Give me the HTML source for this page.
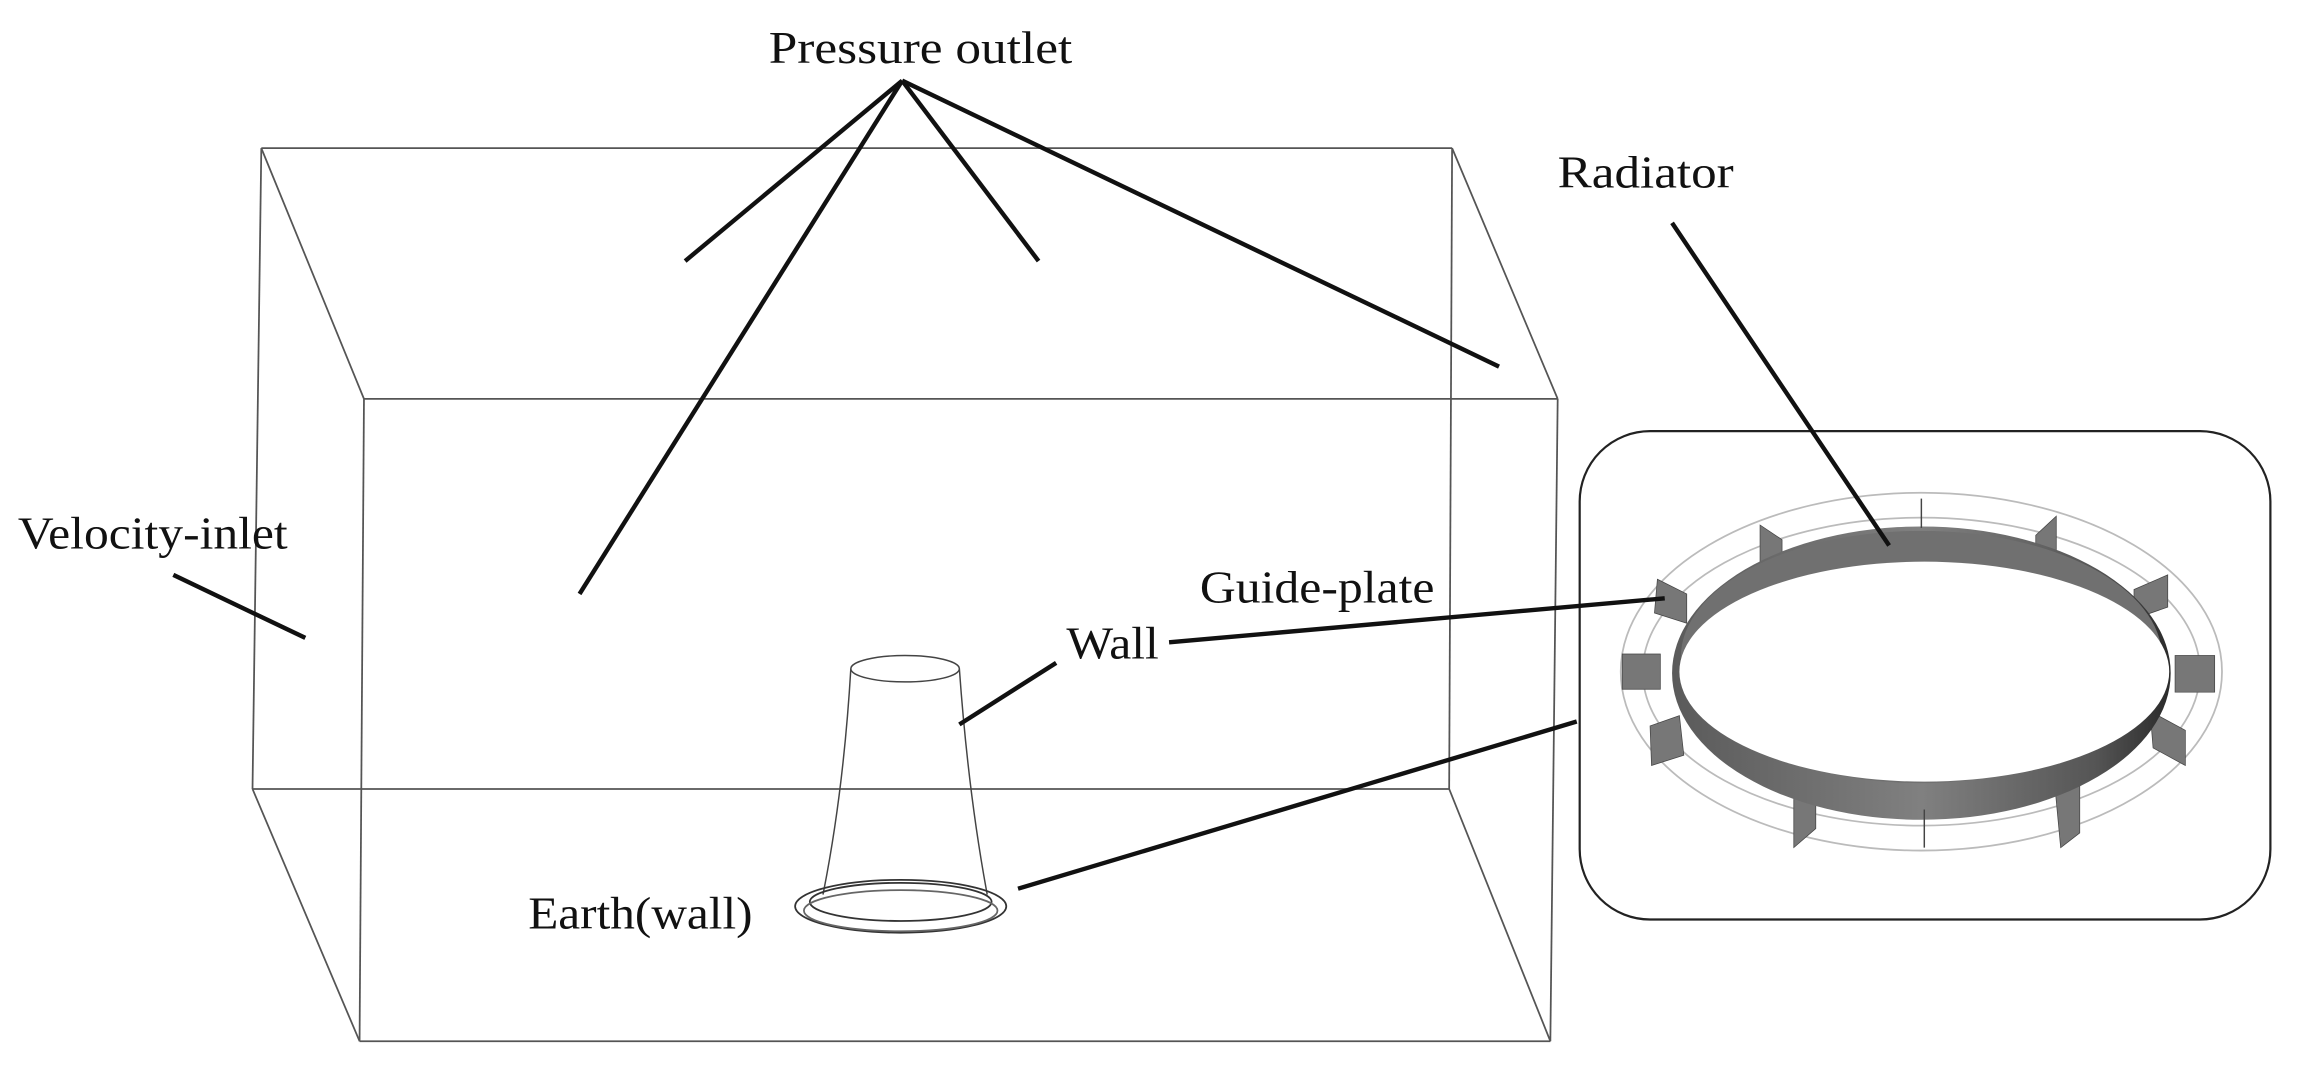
<!DOCTYPE html>
<html><head><meta charset="utf-8"><style>
html,body{margin:0;padding:0;background:#fff;}
svg{display:block;}
text{font-family:"Liberation Serif",serif;font-size:31px;fill:#111;}
</style></head><body>
<svg width="2300" height="1072" viewBox="0 0 1568 731" xmlns="http://www.w3.org/2000/svg">
<defs>
<linearGradient id="g" x1="0" x2="1" y1="0" y2="0">
<stop offset="0" stop-color="#5a5a5a"/><stop offset="0.5" stop-color="#808080"/><stop offset="0.85" stop-color="#555"/><stop offset="1" stop-color="#2a2a2a"/>
</linearGradient>
</defs>
<g stroke="#555" stroke-width="1.2" fill="none">
<line x1="178" y1="101" x2="990" y2="101"/>
<line x1="178" y1="101" x2="172" y2="538"/>
<line x1="990" y1="101" x2="988" y2="538"/>
<line x1="172" y1="538" x2="988" y2="538"/>
<line x1="248" y1="272" x2="1062" y2="272"/>
<line x1="248" y1="272" x2="245" y2="710"/>
<line x1="1062" y1="272" x2="1057" y2="710"/>
<line x1="245" y1="710" x2="1057" y2="710"/>
<line x1="178" y1="101" x2="248" y2="272"/>
<line x1="990" y1="101" x2="1062" y2="272"/>
<line x1="172" y1="538" x2="245" y2="710"/>
<line x1="988" y1="538" x2="1057" y2="710"/>
</g>
<g stroke="#444" stroke-width="1" fill="none">
<ellipse cx="617" cy="456" rx="37" ry="9"/>
<path d="M580,456 Q575,540 561,610"/>
<path d="M654,456 Q660,540 673,610"/>
</g>
<g stroke="#333" stroke-width="1.2" fill="none">
<ellipse cx="614" cy="618" rx="72" ry="18"/>
<ellipse cx="614" cy="615" rx="62" ry="13"/>
<ellipse cx="614" cy="621" rx="66" ry="14" stroke="#666"/>
</g>
<rect x="1077" y="294" width="471" height="333" rx="48" ry="48" fill="none" stroke="#222" stroke-width="1.5"/>
<g fill="none" stroke="#bbb" stroke-width="1.2">
<ellipse cx="1310" cy="458" rx="205" ry="122"/>
<ellipse cx="1310" cy="458" rx="190" ry="105"/>
</g>
<g fill="#777" stroke="#444" stroke-width="0.5">
<polygon points="1200,358 1215,368 1215,398 1200,392"/>
<polygon points="1402,352 1388,365 1388,392 1402,385"/>
<polygon points="1130,395 1150,405 1150,425 1128,418"/>
<polygon points="1478,392 1455,402 1455,422 1478,414"/>
<polygon points="1106,446 1132,446 1132,470 1106,470"/>
<polygon points="1483,447 1510,447 1510,472 1483,472"/>
<polygon points="1125,495 1145,488 1148,515 1126,522"/>
<polygon points="1466,485 1490,498 1490,522 1468,510"/>
<polygon points="1223,535 1238,528 1238,565 1223,578"/>
<polygon points="1400,525 1418,530 1418,568 1405,578"/>
</g>
<ellipse cx="1310" cy="459" rx="170" ry="100" fill="url(#g)"/>
<ellipse cx="1310" cy="448" rx="164" ry="86" fill="#707070"/>
<ellipse cx="1312" cy="458" rx="167" ry="75" fill="#fff"/>
<line x1="1310" y1="340" x2="1310" y2="360" stroke="#444"/>
<line x1="1312" y1="552" x2="1312" y2="578" stroke="#444"/>
<g stroke="#111" stroke-width="3" fill="none">
<line x1="615" y1="55" x2="467" y2="178"/>
<line x1="615" y1="55" x2="395" y2="405"/>
<line x1="615" y1="55" x2="708" y2="178"/>
<line x1="615" y1="55" x2="1022" y2="250"/>
<line x1="1140" y1="152" x2="1288" y2="372"/>
<line x1="118" y1="392" x2="208" y2="435"/>
<line x1="797" y1="438" x2="1135" y2="408"/>
<line x1="654" y1="494" x2="720" y2="452"/>
<line x1="694" y1="606" x2="1075" y2="492"/>
</g>
<text x="524" y="43" textLength="207" lengthAdjust="spacingAndGlyphs">Pressure outlet</text>
<text x="1062" y="128" textLength="120" lengthAdjust="spacingAndGlyphs">Radiator</text>
<text x="12" y="374" textLength="184" lengthAdjust="spacingAndGlyphs">Velocity-inlet</text>
<text x="818" y="411" textLength="160" lengthAdjust="spacingAndGlyphs">Guide-plate</text>
<text x="727" y="449" textLength="63" lengthAdjust="spacingAndGlyphs">Wall</text>
<text x="360" y="633" textLength="153" lengthAdjust="spacingAndGlyphs">Earth(wall)</text>
</svg>
</body></html>
